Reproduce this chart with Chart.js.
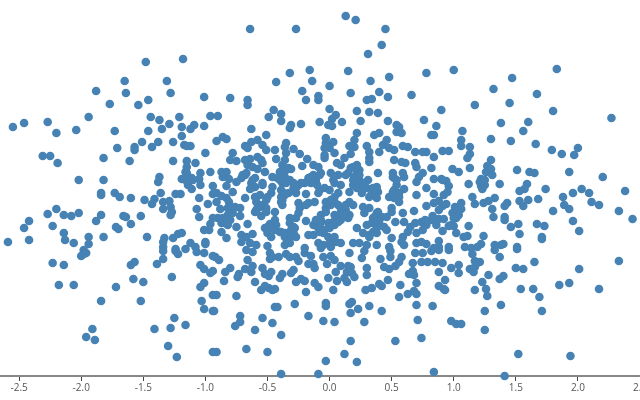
<!DOCTYPE html>
<html>
<head>
<meta charset="utf-8">
<title>Scatter</title>
<script src="https://cdn.jsdelivr.net/npm/chart.js@4"></script>
<style>
  html, body { margin: 0; padding: 0; background: #fff; }
  #wrap { width: 640px; height: 400px; }
</style>
</head>
<body>
<div id="wrap"><canvas id="myChart"></canvas></div>
<script>
// values, as [x, y]
const tickValues = [-2.5, -2, -1.5, -1, -0.5, 0, 0.5, 1, 1.5, 2, 2.5];

const upperLeft = [[-1.48,1.26],[-1.18,1.29],[-1.65,1.07],[-1.31,1.07],[-1.88,.97],[-1.64,.95],[-1.28,.95],[-1.77,.84],[-1.54,.83],[-1.46,.88],[-1.01,.91],[-1.94,.71],[-1.44,.71],[-1.37,.68],[-1.21,.71],[-1.29,.64],[-.96,.72],[-2.55,.61],[-2.46,.65],[-2.27,.66],[-2.04,.58],[-1.73,.57],[-1.46,.57],[-1.35,.59],[-1.19,.61],[-1.12,.59],[-1.09,.63],[-1.01,.62]];

const upperMiddle = [[.13,1.72],[.21,1.68],[-.64,1.59],[-.27,1.59],[.45,1.59],[.42,1.43],[.31,1.34],[-.32,1.15],[-.16,1.18],[.15,1.17],[-.43,1.06],[-.14,1.07],[0,1.02],[.33,1.07],[.48,1.11],[.78,1.15],[-.22,.97],[.17,.95],[.40,.96],[-.80,.90],[-.66,.88],[-.66,.83],[-.19,.88],[-.09,.92],[-.09,.88],[.30,.88],[.34,.89],[.47,.91],[.66,.93],[0,.79],[.22,.77],[.32,.76],[.39,.75],[-.45,.78],[-.39,.74],[-.49,.71],[-.39,.67],[-.90,.72],[.05,.73],[.02,.69],[-.08,.66],[-.23,.64],[-.31,.63],[-.32,.60],[.10,.66],[.25,.67],[.47,.67],[-.01,.63],[.02,.62],[.54,.63],[.56,.61],[.76,.68],[-.63,.59]];

const upperRight = [[1.00,1.18],[1.83,1.19],[1.47,1.10],[1.32,.99],[1.67,.94],[1.45,.85],[1.17,.83],[.90,.78],[1.80,.77],[2.27,.70],[1.38,.65],[1.60,.66],[.86,.62],[1.07,.57],[1.56,.57]];

const middleLeft = [[-2.20,.55],[-1.19,.52],[-1.71,.40],[-1.57,.41],[-1.57,.38],[-1.51,.46],[-1.43,.41],[-1.38,.46],[-1.26,.46],[-1.17,.43],[-1.15,.42],[-1.12,.42],[-1.00,.35],[-2.31,.32],[-2.25,.32],[-2.19,.25],[-1.82,.30],[-1.61,.27],[-1.26,.27],[-1.15,.27],[-1.08,.25],[-1.15,.21],[-.96,.16],[-1.04,.15],[-1.16,.16],[-1.37,.11],[-1.38,.06],[-1.19,.09],[-2.02,.08],[-1.82,.08],[-1.16,.08],[-1.11,.10],[-1.05,.09],[-1.14,.03],[-1.11,-.01],[-1.04,.03],[-.94,.02],[-1.84,-.05],[-1.84,-.07],[-1.73,-.05],[-1.69,-.09],[-1.60,-.10],[-1.49,-.12],[-1.41,-.11],[-1.43,-.16],[-1.36,-.05],[-1.24,-.06],[-1.20,-.06],[-.94,-.06],[-1.05,-.10],[-.98,-.16],[-1.34,-.14],[-1.29,-.13],[-1.34,-.21],[-1.28,-.19],[-1.27,-.24],[-1.28,-.27],[-1.07,-.21],[-2.20,-.21],[-2.27,-.26],[-2.14,-.27],[-2.08,-.28],[-2.02,-.25],[-1.84,-.27],[-1.88,-.33],[-1.66,-.28],[-1.64,-.29],[-1.52,-.28],[-1.05,-.29],[-2.42,-.33],[-2.46,-.40],[-2.23,-.38],[-1.60,-.36],[-1.72,-.39],[-1.70,-.41],[-.96,-.36],[-1.01,-.42],[-.97,-.42],[-.94,-.30],[-2.14,-.45],[-2.13,-.52],[-2.42,-.52],[-2.59,-.54],[-2.06,-.55],[-1.94,-.49],[-1.94,-.56],[-1.82,-.49],[-1.47,-.49],[-1.33,-.50],[-1.34,-.54],[-1.26,-.50],[-1.22,-.46],[-1.19,-.45],[-1.00,-.54],[-1.12,-.55],[-1.08,-.59],[-1.00,-.56],[-1.34,-.59],[-1.24,-.61],[-1.16,-.61],[-1.98,-.62],[-1.15,.15],[-1.10,.08]];

const lowerLeft = [[-2.23,-.75],[-2.14,-.77],[-2.00,-.68],[-1.98,-.66],[-1.96,-.65],[-2.18,-.97],[-2.06,-.97],[-1.84,-1.13],[-1.72,-.99],[-1.60,-.77],[-1.57,-.74],[-1.58,-.91],[-1.50,-.94],[-1.52,-1.13],[-1.39,-.76],[-1.34,-.71],[-1.34,-.63],[-1.27,-.89],[-1.24,-.63],[-1.22,-.66],[-1.07,-.64],[-1.01,-.65],[-.94,-.68],[-1.04,-.77],[-1.01,-.81],[-.96,-.85],[-1.04,-.99],[-1.01,-.95],[-1.03,-1.13],[-1.01,-1.21],[-.94,-1.23],[-1.25,-1.30],[-1.16,-1.37],[-1.28,-1.40],[-1.41,-1.41],[-1.91,-1.41],[-1.96,-1.49],[-1.89,-1.52],[-1.30,-1.58],[-1.23,-1.69],[-.94,-1.64],[-.94,-1.07]];

const lowerMiddle = [[-.92,-.69],[-.89,-.72],[-.67,-.62],[-.62,-.64],[-.66,-.72],[-.48,-.65],[-.48,-.71],[-.46,-.69],[-.41,-.69],[-.35,-.66],[-.32,-.69],[-.27,-.69],[-.25,-.73],[-.20,-.65],[-.15,-.68],[-.05,-.69],[.01,-.68],[.04,-.72],[.16,-.65],[.26,-.70],[.28,-.63],[.41,-.71],[.49,-.69],[.49,-.63],[.58,-.69],[.69,-.65],[.75,-.65],[-.80,-.80],[-.84,-.84],[-.94,-.83],[-.73,-.86],[-.74,-.89],[-.85,-.93],[-.68,-.81],[-.63,-.84],[-.62,-.78],[-.54,-.80],[-.52,-.86],[-.49,-.88],[-.47,-.84],[-.60,-.94],[-.38,-.86],[-.40,-.90],[-.29,-.82],[-.31,-.85],[-.17,-.76],[-.13,-.76],[-.12,-.80],[-.02,-.76],[.09,-.78],[.05,-.84],[-.01,-.90],[.06,-.93],[.15,-.78],[.17,-.79],[.14,-.84],[.18,-.85],[.20,-.89],[.12,-.90],[.14,-.94],[.30,-.80],[.30,-.87],[.44,-.79],[.48,-.81],[.53,-.78],[.56,-.74],[.67,-.75],[.74,-.74],[.67,-.83],[.64,-.86],[.68,-.87],[.47,-.92],[.57,-.97],[.70,-.95],[-.91,-1.07],[-.75,-1.08],[-.55,-1.02],[-.52,-.98],[-.49,-1.00],[-.46,-1.02],[-.44,-1.01],[-.27,-.94],[-.23,-.91],[-.20,-.93],[-.12,-.95],[-.09,-.99],[-.19,-1.04],[.03,-1.02],[.29,-1.02],[.34,-1.00],[.40,-.96],[.42,-.98],[.56,-1.09],[.63,-1.06],[.68,-1.03],[.70,-1.06],[-.28,-1.16],[-.44,-1.19],[-.42,-1.19],[-.03,-1.15],[-.03,-1.18],[.16,-1.16],[.18,-1.14],[.23,-1.21],[.32,-1.18],[.42,-1.23],[.70,-1.17],[-.93,-1.23],[.17,-1.25],[-.17,-1.28],[-.72,-1.28],[-.72,-1.34],[-.76,-1.38],[-.54,-1.30],[-.46,-1.35],[-.05,-1.33],[.04,-1.34],[.28,-1.34],[.71,-1.32],[-.60,-1.42],[-.39,-1.47],[.17,-1.53],[.53,-1.53],[.74,-1.50],[-.91,-1.64],[-.67,-1.61],[-.50,-1.64],[.12,-1.66],[-.03,-1.73],[.22,-1.74],[-.39,-1.86],[-.09,-1.86]];

const lowerRight = [[.79,-.74],[.85,-.74],[.91,-.75],[.98,-.80],[1.04,-.77],[1.04,-.85],[.88,-.84],[.82,-.63],[.88,-.62],[.96,-.62],[1.15,-.66],[1.33,-.62],[1.37,-.69],[1.51,-.61],[1.17,-.73],[1.21,-.74],[1.18,-.76],[1.13,-.81],[1.16,-.84],[1.17,-.79],[1.28,-.87],[1.23,-.94],[1.17,-1.02],[1.26,-1.01],[1.27,-1.08],[.93,-.92],[.88,-.98],[.92,-1.01],[.93,-1.02],[.83,-1.18],[1.38,-1.17],[1.25,-1.23],[1.37,-.91],[1.40,-.88],[1.50,-.80],[1.56,-.81],[1.65,-.74],[2.01,-.81],[2.33,-.73],[1.54,-1.01],[1.64,-1.01],[1.69,-1.09],[1.71,-1.23],[1.85,-.97],[1.93,-.95],[2.17,-1.01],[.98,-1.33],[1.02,-1.36],[1.06,-1.36],[1.25,-1.42],[1.52,-1.66],[1.94,-1.68],[.84,-1.84],[1.41,-1.88]];

const middleRight = [[.82,.53],[.84,.53],[1.30,.49],[1.46,.47],[1.06,.48],[1.06,.42],[1.13,.41],[1.66,.44],[1.79,.38],[1.87,.34],[1.97,.33],[2.00,.40],[.91,.37],[.96,.37],[1.13,.34],[1.11,.30],[.84,.31],[.78,.36],[1.30,.28],[1.27,.22],[.82,.20],[.99,.19],[1.04,.16],[1.13,.20],[1.30,.19],[1.26,.16],[1.31,.13],[1.51,.18],[1.61,.16],[1.65,.15],[1.93,.16],[2.20,.11],[.84,.09],[.90,.09],[.94,.07],[.96,.02],[1.22,.09],[1.21,.06],[1.25,.08],[1.12,.04],[1.37,.04],[1.22,.02],[1.25,.03],[1.23,-.01],[1.59,.04],[1.57,-.01],[1.53,-.03],[1.74,-.01],[.78,0],[.84,-.06],[.92,-.07],[.95,-.04],[1.96,-.05],[2.03,-.01],[2.09,-.05],[2.38,-.03],[1.88,-.09],[1.15,-.09],[1.33,-.10],[1.28,-.13],[1.24,-.15],[1.17,-.16],[1.06,-.15],[.94,-.16],[.88,-.13],[.84,-.15],[.78,-.18],[1.53,-.13],[1.60,-.12],[1.68,-.11],[1.56,-.18],[1.43,-.15],[1.41,-.18],[2.11,-.14],[2.17,-.17],[1.89,-.17],[1.93,-.21],[2.33,-.23],[2.44,-.31],[1.80,-.23],[1.31,-.21],[1.01,-.19],[1.06,-.21],[.91,-.18],[.88,-.22],[.99,-.25],[1.04,-.27],[1.02,-.30],[1.32,-.29],[1.41,-.29],[1.41,-.32],[1.52,-.36],[1.46,-.39],[1.67,-.36],[1.73,-.38],[1.96,-.33],[2.01,-.43],[1.53,-.46],[1.71,-.49],[1.71,-.51],[.83,-.28],[.82,-.32],[.88,-.31],[.92,-.31],[.86,-.37],[.91,-.43],[.96,-.38],[1.00,-.38],[1.02,-.45],[1.12,-.38],[1.24,-.48],[1.11,-.48],[1.08,-.49],[.88,-.53],[.78,-.56],[1.40,-.56],[1.38,-.57],[1.33,-.57],[1.22,-.56],[1.19,-.59],[1.09,-.59],[1.14,-.60],[.96,-.59],[.88,-.59],[.84,-.60],[1.51,-.59],[.78,-.37],[1.03,-.24],[1.00,-.30],[.98,-.37],[.91,.08]];

const centreTop = [[-.51,.53],[-.86,.51],[-.83,.49],[-.91,.47],[.22,.55],[.36,.53],[.40,.55],[.54,.56],[.58,.55],[-.03,.50],[.20,.48],[-.63,.46],[-.68,.42],[-.66,.40],[-.58,.48],[-.54,.43],[-.51,.38],[-.35,.45],[-.36,.41],[-.29,.39],[-.44,.38],[.03,.46],[-.03,.45],[0,.40],[-.04,.40],[.16,.42],[.20,.41],[.30,.42],[.46,.48],[.43,.43],[.48,.40],[.52,.38],[.40,.36],[.59,.42],[.63,.41],[.69,.36],[.75,.36],[.32,.36],[-.78,.35],[-.24,.34],[.17,.34],[-.35,.35],[.04,.35],[-.04,.33],[-.80,.28],[-.75,.27],[-.68,.28],[-.64,.29],[-.58,.31],[-.55,.28],[-.43,.29],[-.36,.28],[-.18,.29],[.12,.30],[-.04,.30],[.06,.25],[.09,.23],[.22,.23],[.32,.30],[.32,.26],[.52,.28],[.58,.26],[.61,.25],[.69,.25],[.70,.21],[-.66,.23],[-.62,.21],[-.54,.25],[-.58,.19],[-.52,.16],[-.22,.22],[-.13,.23],[-.09,.21],[-.38,.23],[-.33,.20],[-.31,.19],[-.40,.16],[.17,.20],[.24,.18],[-.87,.16],[-.83,.16],[.39,.15],[.51,.15],[.59,.15],[.75,.15],[.70,.06],[.19,.21]];

const centreUpper = [[-.86,.11],[-.81,.09],[-.68,.13],[-.71,.10],[-.75,.06],[-.60,.10],[-.63,.05],[-.46,.11],[-.42,.10],[-.36,.11],[-.32,.08],[-.38,.05],[-.17,.10],[-.13,.13],[-.11,.08],[.01,.15],[.07,.13],[.03,.08],[.09,.03],[-.08,.13],[.15,.15],[.20,.11],[.24,.08],[.31,.08],[.27,.05],[.52,.10],[.60,.11],[.54,.03],[.72,.11],[-.83,.02],[-.78,-.04],[-.64,-.01],[-.54,.05],[-.60,.01],[-.46,.01],[-.25,.03],[-.29,0],[-.20,.05],[-.15,.05],[-.08,-.02],[-.04,0],[0,-.02],[.19,.03],[.23,.01],[.16,-.04],[.30,0],[.38,.01],[.34,-.04],[.39,-.04],[.60,-.01],[.51,-.04],[.56,-.05]];

const centreLower = [[-.91,-.05],[-.87,-.08],[-.68,-.10],[-.59,-.09],[-.47,-.05],[-.50,-.09],[-.38,-.04],[-.33,-.05],[-.39,-.09],[-.27,-.05],[-.19,-.06],[-.09,-.05],[.07,-.05],[.04,-.09],[.26,-.05],[.38,-.10],[.32,-.09],[.70,-.07],[.56,-.09],[.48,-.09],[.52,-.10],[-.83,-.10],[-.81,-.14],[-.59,-.14],[-.51,-.12],[-.54,-.17],[-.39,-.14],[-.12,-.14],[-.17,-.15],[-.25,-.15],[0,-.14],[.04,-.14],[.07,-.17],[.16,-.14],[.19,-.17],[.56,-.14],[-.91,-.14],[-.88,-.21],[-.82,-.20],[-.76,-.19],[-.72,-.20],[-.60,-.24],[-.58,-.20],[-.51,-.20],[-.44,-.24],[-.38,-.17],[-.24,-.20],[-.19,-.17],[-.03,-.20],[.01,-.17],[.09,-.20],[.13,-.22],[.27,-.19],[.32,-.20],[.50,-.20],[.68,-.23],[.39,-.24],[.50,-.24]];

const centreBottom = [[-.90,-.30],[-.82,-.27],[-.83,-.32],[-.78,-.25],[-.72,-.28],[-.55,-.28],[-.25,-.25],[-.27,-.30],[-.32,-.30],[-.19,-.33],[-.07,-.27],[-.03,-.24],[.04,-.27],[.09,-.25],[.16,-.27],[.28,-.25],[.35,-.30],[.42,-.29],[.38,-.25],[.59,-.25],[.53,-.34],[.60,-.34],[.46,-.29],[-.87,-.35],[-.82,-.37],[-.75,-.39],[-.66,-.36],[-.44,-.32],[-.48,-.36],[-.52,-.40],[-.43,-.37],[-.32,-.35],[-.28,-.40],[-.13,-.37],[-.07,-.34],[-.01,-.35],[.08,-.29],[.07,-.34],[.15,-.30],[.03,-.34],[-.09,-.40],[.22,-.40],[.34,-.35],[.40,-.35],[.44,-.39],[.30,-.37],[.69,-.35],[.74,-.34],[.77,-.32],[.65,-.39],[-.87,-.44],[-.83,-.50],[-.71,-.47],[-.62,-.46],[-.67,-.49],[-.50,-.45],[-.47,-.49],[-.39,-.44],[-.36,-.49],[-.29,-.45],[-.27,-.49],[-.17,-.47],[-.13,-.47],[-.32,-.50],[-.05,-.45],[-.01,-.49],[.04,-.49],[.27,-.45],[.32,-.47],[.38,-.45],[.46,-.42],[.50,-.50],[.59,-.49],[.63,-.44],[.70,-.45],[.75,-.42],[-.71,-.54],[-.64,-.55],[-.59,-.57],[-.50,-.58],[-.32,-.55],[-.36,-.57],[-.09,-.55],[-.05,-.57],[0,-.55],[.05,-.54],[.09,-.55],[.19,-.55],[.24,-.55],[.30,-.57],[.38,-.57],[.48,-.59],[.58,-.54],[.60,-.57],[.70,-.55],[.74,-.54],[-.20,-.60],[-.07,-.60],[.01,-.59]];

// second pass over the tight clumps in the middle
const denseClumps = [[-.39,.16],[-.35,.18],[-.40,.08],[-.35,.05],[-.39,-.02],[-.36,-.07],[-.38,-.12],[-.29,.05],[-.27,0],[-.23,.05],[-.17,.06],[-.13,.08],[-.15,.11],[-.07,.15],[.04,.05],[-.10,.03],[.13,.13],[.22,.15],[.19,.08],[.23,.06],[.26,.03],[.22,0],[.24,.13],[-.03,-.14],[.01,-.12],[-.07,-.32],[-.08,-.37],[-.11,-.32],[.04,-.37],[0,-.40],[.09,-.32],[.11,-.27],[.13,-.17],[-.04,-.42],[-.08,-.44],[-.50,-.39],[-.47,-.40],[-.44,-.42],[-.40,-.44],[-.36,-.45],[-.31,-.42],[-.29,-.39],[-.86,-.30],[-.84,-.35],[-.80,-.32],[-.79,-.20],[-.60,-.09],[-.56,-.07],[-.63,0],[-.62,.08],[-.70,.13],[-.67,.15],[-.54,.03],[-.56,-.19],[-.51,-.24],[-.59,-.22],[.35,0],[.38,-.02],[.52,-.02],[.55,-.05],[.54,.08],[.51,.11],[.35,-.44],[.32,-.49],[.38,-.40],[.36,-.29]];

const allPoints = [].concat(upperLeft, upperMiddle, upperRight, middleLeft, lowerLeft, lowerMiddle, lowerRight, middleRight, centreTop, centreUpper, centreLower, centreBottom, denseClumps);

const ctx = document.getElementById('myChart');
const config = {
  type: 'scatter',
  data: {
    datasets: [{
      data: allPoints.map((p) => ({ x: p[0], y: p[1] })),
      backgroundColor: 'steelblue',
      borderWidth: 0,
      pointRadius: 4.3,
      clip: false
    }]
  },
  options: {
    responsive: true,
    maintainAspectRatio: false,
    animation: false,
    layout: { padding: 0, autoPadding: false },
    plugins: { legend: { display: false }, tooltip: { enabled: false } },
    scales: {
      x: {
        type: 'linear',
        min: -2.654,
        max: 2.5,
        afterBuildTicks: (axis) => { axis.ticks = tickValues.map((v) => ({ value: v })); },
        afterFit: (axis) => { axis.height = 24; axis.paddingLeft = 0; axis.paddingRight = 0; },
        border: { color: '#888', width: 2 },
        grid: { drawOnChartArea: false, tickLength: 5, tickColor: '#444', tickWidth: 1 },
        ticks: {
          color: '#555',
          font: { family: '"Open Sans"', size: 10 },
          padding: 1,
          maxRotation: 0,
          autoSkip: false,
          callback: (v) => v.toFixed(1)
        }
      },
      y: { display: false, min: -1.88, max: 1.88 }
    }
  }
};
const chart = new Chart(ctx, config);
</script>
</body>
</html>
